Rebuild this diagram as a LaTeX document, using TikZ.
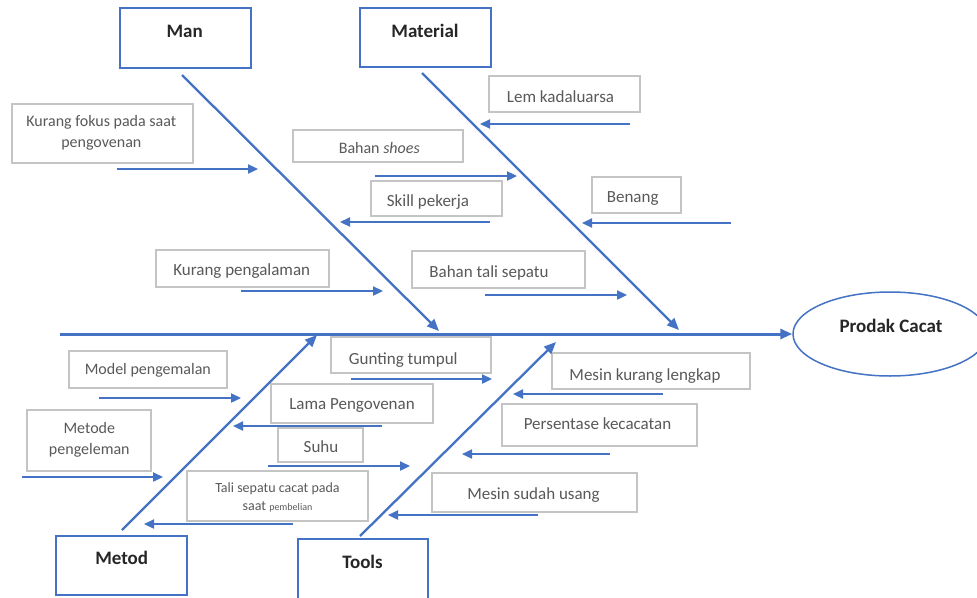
\documentclass[tikz,border=0pt]{standalone}
\usepackage{fontspec}
\setmainfont{Carlito}
\usetikzlibrary{arrows.meta,shapes.geometric}
\definecolor{bl}{HTML}{4472C4}
\definecolor{gb}{HTML}{C4C4C4}
\definecolor{tx}{HTML}{595959}
\begin{document}
\begin{tikzpicture}[x=1pt,y=-1pt,
 cat/.style={draw=bl,line width=1.6pt,rectangle,inner sep=0},
 lbl/.style={draw=gb,line width=1.3pt,rectangle,inner sep=0},
 ttl/.style={font=\fontsize{19}{22}\selectfont\bfseries,text=black!85,inner sep=0,anchor=base},
 ta/.style={font=\fontsize{17}{20}\selectfont,text=tx,inner sep=0,anchor=base},
 tb/.style={font=\fontsize{16}{20.5}\selectfont,text=tx,inner sep=0,anchor=base,align=center},
 tc/.style={font=\fontsize{14}{18}\selectfont,text=tx,inner sep=0,anchor=base,align=center},
 spine/.style={draw=bl,line width=2.3pt,-{Triangle[length=12pt,width=10pt]}},
 br/.style={draw=bl,line width=2.3pt,-{Triangle[length=10pt,width=9pt]}},
]
\useasboundingbox (0,0) rectangle (977,597);
\clip (0,0) rectangle (977,597);
\fill[white] (0,0) rectangle (977,597);

% category boxes
\node[cat,minimum width=131pt,minimum height=60pt] (man) at (185.5,38) {};
\node[cat,minimum width=131pt,minimum height=59pt] (mat) at (425.5,37.5) {};
\node[cat,minimum width=131pt,minimum height=59pt] (met) at (121.5,565.5) {};
\node[cat,minimum width=130pt,minimum height=62pt] (tool) at (363,570) {};
\node[ellipse,draw=bl,line width=1.5pt,minimum width=194pt,minimum height=84pt,inner sep=0] (eff) at (890,334) {};
\node[ttl] (manT) at (184.7,37) {Man};
\node[ttl] (matT) at (425,37) {Material};
\node[ttl] (metT) at (121.7,564) {Metod};
\node[ttl] (toolT) at (362.5,568) {Tools};
\node[ttl] (effT) at (891,332) {Prodak Cacat};

% label boxes
\node[lbl,minimum width=181pt,minimum height=59pt] (b1) at (102.5,133.5) {};
\node[lbl,minimum width=170pt,minimum height=32pt] (b2) at (378,146) {};
\node[lbl,minimum width=131pt,minimum height=35pt] (b3) at (436.5,198.5) {};
\node[lbl,minimum width=173pt,minimum height=37pt] (b4) at (242.5,268.5) {};
\node[lbl,minimum width=173pt,minimum height=37pt] (b5) at (498.5,269.5) {};
\node[lbl,minimum width=151pt,minimum height=36pt] (b6) at (564.5,94) {};
\node[lbl,minimum width=89pt,minimum height=36pt] (b7) at (636.5,195) {};
\node[lbl,minimum width=158pt,minimum height=37pt] (b8) at (148,369.5) {};
\node[lbl,minimum width=124pt,minimum height=61pt] (b9) at (89,440.5) {};
\node[lbl,minimum width=160pt,minimum height=36pt] (b10) at (411,355) {};
\node[lbl,minimum width=162pt,minimum height=39pt] (b11) at (352,403.5) {};
\node[lbl,minimum width=85pt,minimum height=34pt] (b12) at (320.5,445) {};
\node[lbl,minimum width=181pt,minimum height=50pt] (b13) at (277.5,496) {};
\node[lbl,minimum width=198pt,minimum height=36pt] (b14) at (651,371) {};
\node[lbl,minimum width=195pt,minimum height=42pt] (b15) at (599.5,425) {};
\node[lbl,minimum width=205pt,minimum height=39pt] (b16) at (534.5,492.5) {};

% label texts (multi-line nodes: base = last line)
\node[tb] (t1) at (101.3,147) {Kurang fokus pada saat\\pengovenan};
\node[tb] (t2) at (379.3,153) {Bahan \textit{shoes}};
\node[ta] (t3) at (428,206) {Skill pekerja};
\node[ta] (t4) at (241.7,275) {Kurang pengalaman};
\node[ta] (t5) at (489,277) {Bahan tali sepatu};
\node[ta] (t6) at (560.5,102) {Lem kadaluarsa};
\node[ta] (t7) at (632.7,202) {Benang};
\node[tb] (t8) at (147.8,374) {Model pengemalan};
\node[tb] (t9) at (89.3,454) {Metode\\pengeleman};
\node[ta] (t10) at (403.3,364) {Gunting tumpul};
\node[ta] (t11) at (352,409) {Lama Pengovenan};
\node[ta] (t12) at (321,452) {Suhu};
\node[tc] (t13) at (277.5,510) {Tali sepatu cacat pada\\saat {\fontsize{10}{12}\selectfont pembelian}};
\node[ta] (t14) at (645,380) {Mesin kurang lengkap};
\node[ta] (t15) at (597.5,429) {Persentase kecacatan};
\node[ta] (t16) at (533.5,499) {Mesin sudah usang};

% spines
\coordinate (hs) at (60,334);
\coordinate (manS) at (182,75);   \coordinate (manE) at (439,331);
\coordinate (matS) at (422,73);   \coordinate (matE) at (679,330);
\coordinate (metS) at (122,530);  \coordinate (metE) at (317,335);
\coordinate (toolS) at (360,536); \coordinate (toolE) at (556,342);
\draw[spine,line width=3pt] (hs) -- (eff.west);
\draw[spine] (manS) -- (manE);
\draw[spine] (matS) -- (matE);
\draw[spine] (metS) -- (metE);
\draw[spine] (toolS) -- (toolE);

% branch arrows
\coordinate (a1s) at (117,169);  \coordinate (a1e) at (258,169);
\coordinate (a2s) at (375,176);  \coordinate (a2e) at (517,176);
\coordinate (a3s) at (490,222);  \coordinate (a3e) at (340,222);
\coordinate (a4s) at (241,291);  \coordinate (a4e) at (383,291);
\coordinate (a5s) at (485,295);  \coordinate (a5e) at (627,295);
\coordinate (a6s) at (630,124);  \coordinate (a6e) at (480,124);
\coordinate (a7s) at (731,223);  \coordinate (a7e) at (582,223);
\coordinate (a8s) at (99,398);   \coordinate (a8e) at (241,398);
\coordinate (a9s) at (22,477);   \coordinate (a9e) at (163,477);
\coordinate (a10s) at (351,379); \coordinate (a10e) at (492,379);
\coordinate (a11s) at (382,426); \coordinate (a11e) at (233,426);
\coordinate (a12s) at (268,466); \coordinate (a12e) at (410,466);
\coordinate (a13s) at (293,524); \coordinate (a13e) at (144,524);
\coordinate (a14s) at (663,394); \coordinate (a14e) at (513,394);
\coordinate (a15s) at (610,454); \coordinate (a15e) at (462,454);
\coordinate (a16s) at (538,515); \coordinate (a16e) at (388,515);
\foreach \i in {1,...,16} { \draw[br] (a\i s) -- (a\i e); }
\end{tikzpicture}
\end{document}
